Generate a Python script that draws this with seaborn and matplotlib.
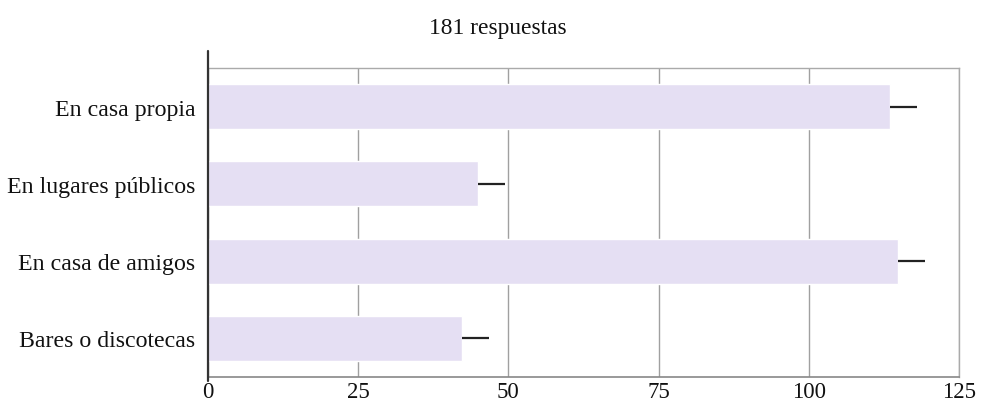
import matplotlib
matplotlib.use("Agg")
import matplotlib.pyplot as plt
import seaborn as sns
import pandas as pd
import numpy as np
from matplotlib.lines import Line2D

categories = ["En casa propia", "En lugares públicos", "En casa de amigos", "Bares o discotecas"]
values = [113.5, 45.0, 114.8, 42.2]
err_right = [4.5, 4.5, 4.5, 4.5]
x_ticks = [0, 25, 50, 75, 100, 125]
title = "181 respuestas"

sns.set_theme(style="white")
plt.rcParams['font.family'] = ['Liberation Serif', 'DejaVu Serif']

df = pd.DataFrame({"cat": categories, "val": values})

fig = plt.figure(figsize=(9.86, 4.06), dpi=100)
ax = fig.add_axes([0.211, 0.069, 0.7616, 0.761])

sns.barplot(data=df, x="val", y="cat", orient="h", color="#E5DFF3",
            saturation=1, width=0.58, errorbar=None, ax=ax, zorder=2)

pos = np.arange(len(categories))
ax.errorbar(values, pos, xerr=[np.zeros(len(values)), err_right], fmt="none",
            ecolor="#222222", elinewidth=1.6, capsize=0, zorder=3)

ax.set_xlim(0, 125)
ax.set_ylim(3.5, -0.5)
ax.set_xticks(x_ticks)
ax.set_xticklabels([str(t) for t in x_ticks])
ax.xaxis.grid(True, color="#a0a0a0", linewidth=1.0, zorder=0)
ax.set_axisbelow(True)
ax.set_xlabel("")
ax.set_ylabel("")
ax.tick_params(axis="both", length=0, colors="#111111")
ax.tick_params(axis="y", pad=9, labelsize=17.2)
ax.tick_params(axis="x", pad=3, labelsize=16.5)

for s in ["top", "right"]:
    ax.spines[s].set_color("#aaaaaa")
    ax.spines[s].set_linewidth(1.0)
ax.spines["bottom"].set_color("#888888")
ax.spines["bottom"].set_linewidth(1.2)
ax.spines["left"].set_visible(False)
ax.add_line(Line2D([0, 0], [-0.013, 1.055], transform=ax.transAxes, color="#333333",
                   linewidth=1.6, clip_on=False, zorder=5))

fig.text(0.505, 0.931, title, ha="center", va="center", fontsize=16.9, color="#111111")

fig.savefig("out.png", dpi=100)
